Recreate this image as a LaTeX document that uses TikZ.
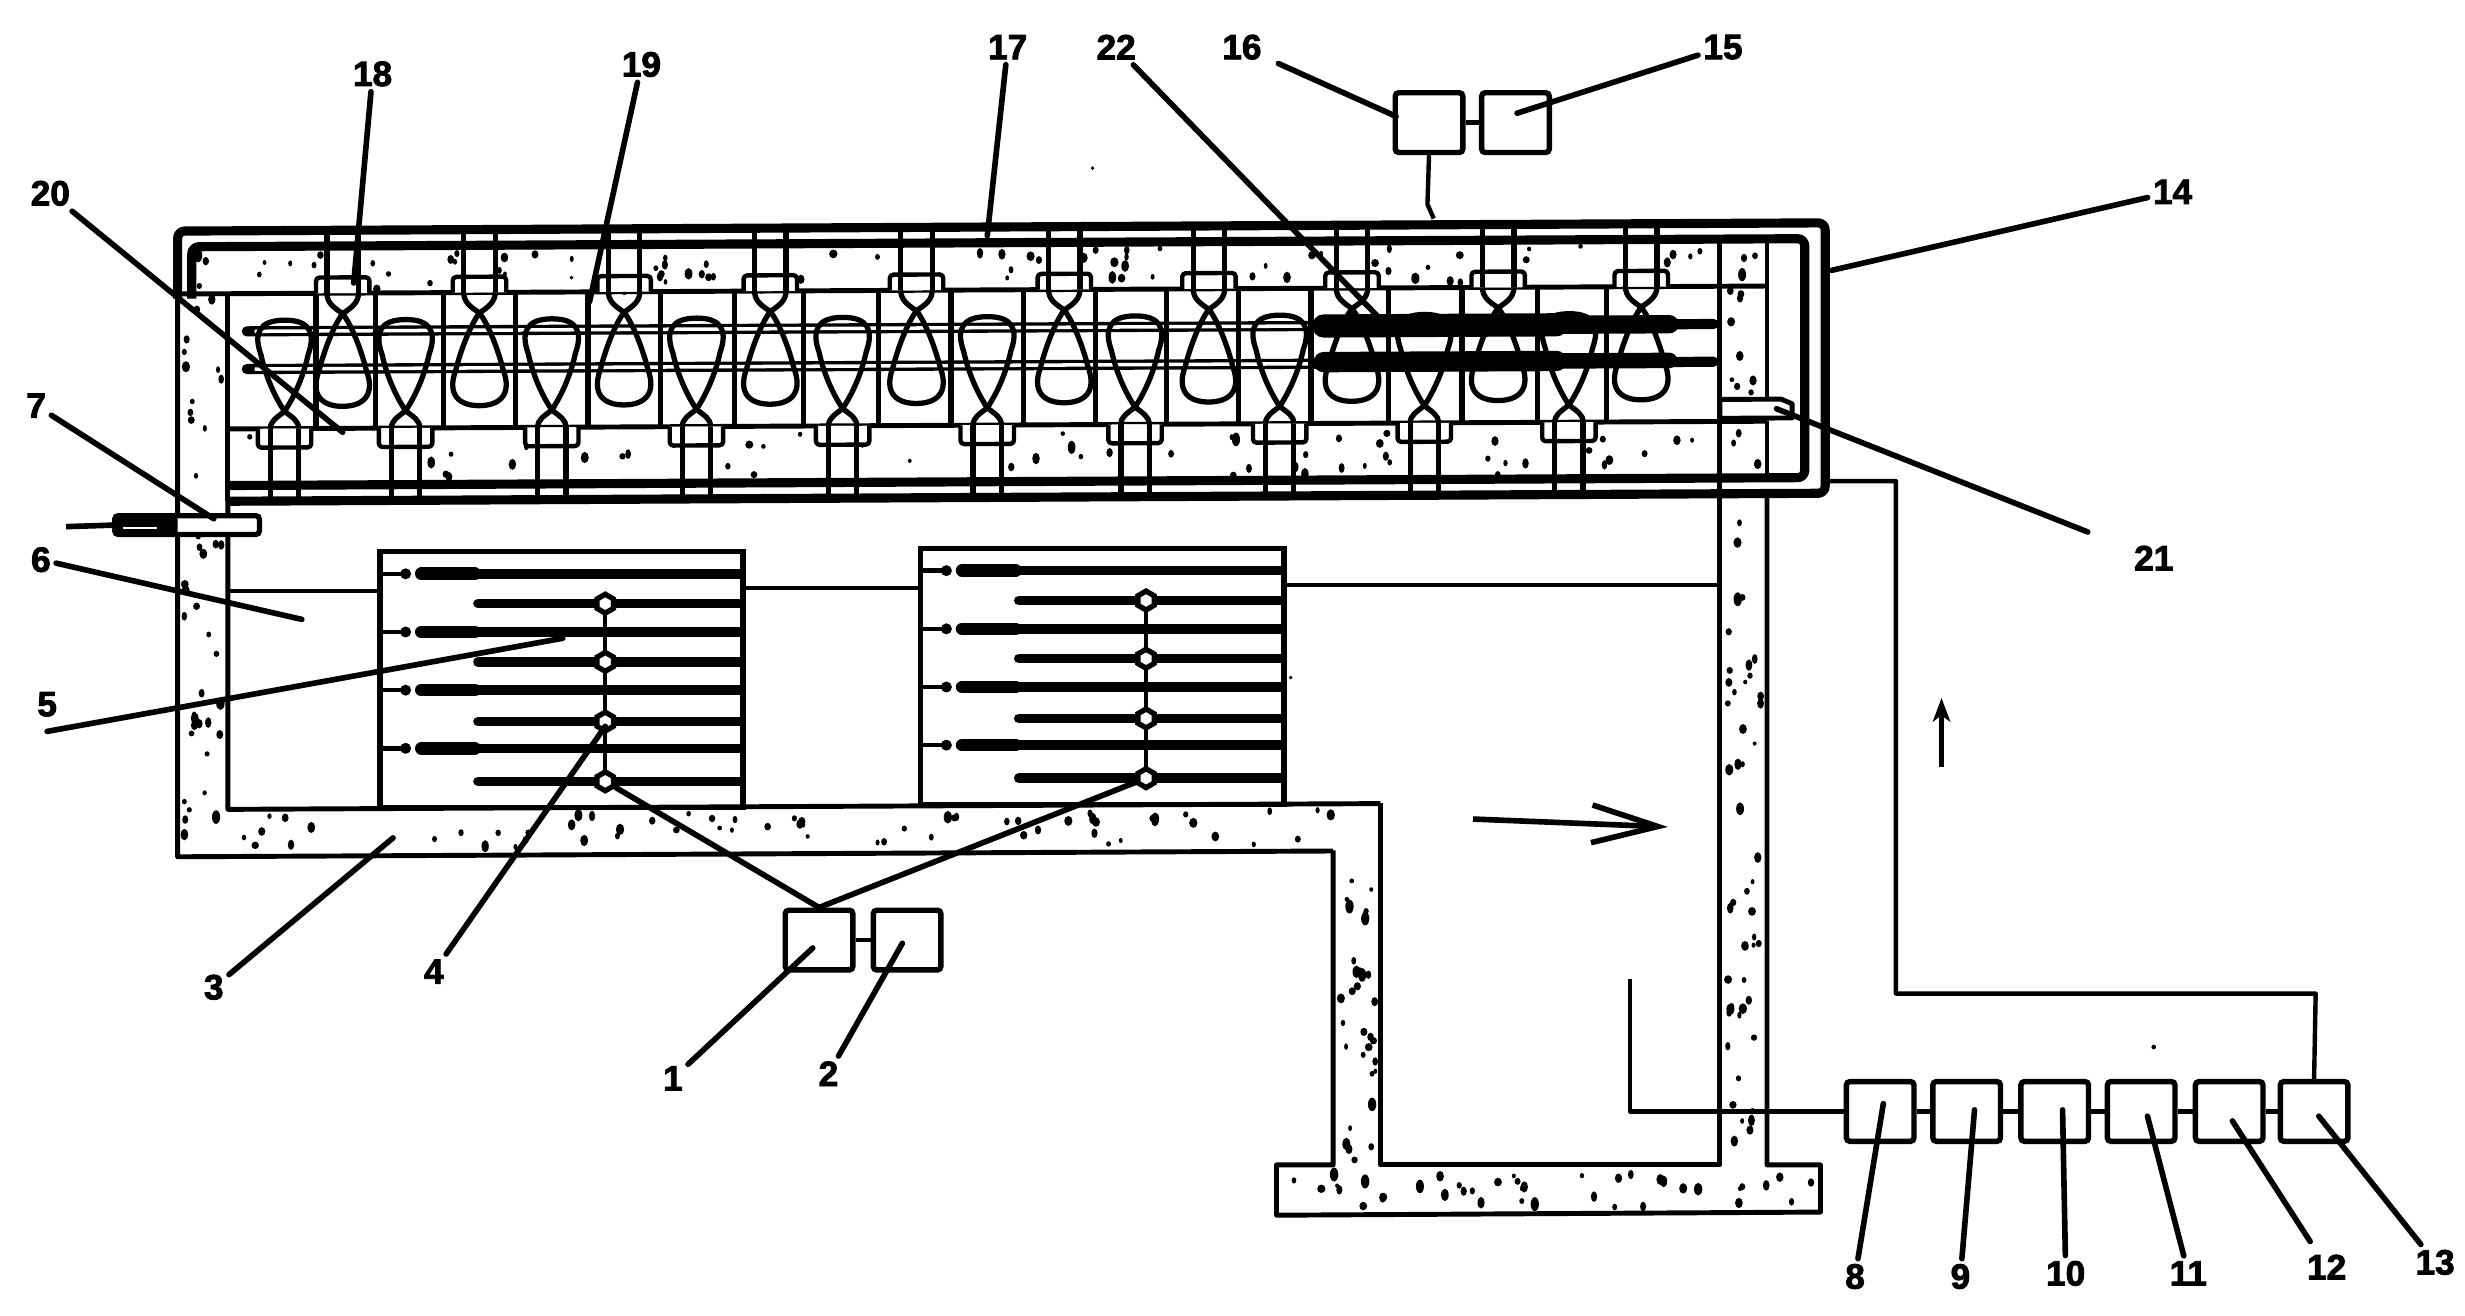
\documentclass[tikz,border=0pt]{standalone}
\usepackage{fontspec}
\setmainfont{Liberation Sans}[BoldFeatures={FakeBold=2.5}]
\usetikzlibrary{arrows.meta,shapes.geometric}
\def\uu{0.0157207cm}
\tikzset{
 thinl/.style={line width=1.25pt,line join=round},
 wall/.style={line width=1.4pt,line join=round},
 heavy/.style={line width=2.6pt,line join=round,rounded corners=2pt},
 tubel/.style={line width=1.5pt,line join=round},
 leader/.style={line width=1.6pt,line cap=round},
 boxn/.style={draw,line width=1.55pt,rounded corners=1pt,fill=white,inner sep=0pt,minimum width=43*\uu,minimum height=38*\uu},
 lab/.style={font=\bfseries\fontsize{10}{10}\selectfont,inner sep=3*\uu},
 hexn/.style={draw,fill=white,line width=1.5pt,regular polygon,regular polygon sides=6,rotate=30,inner sep=0pt,minimum size=12*\uu},
}
% speckles: x1 x2 y1 y2 count
\newcommand\speckles[5]{%
 \foreach \k in {1,...,#5}{%
  \pgfmathsetmacro\sx{#1+rnd*(#2-#1)}%
  \pgfmathsetmacro\sy{#3+rnd*(#4-#3)}%
  \pgfmathsetmacro\ra{1.2+rnd*1.5}%
  \pgfmathsetmacro\rb{\ra*(1+rnd*0.7)}%
  \fill (\sx,\sy) ellipse [x radius=\ra, y radius=-\rb];
 }}
\newcommand\toptube[1]{%
 \begin{scope}[shift={(#1,0)}]
  \fill[white] (-10,158) rectangle (10,187);
  \draw[tubel] (-10,147)--(-10,187) (10,147)--(10,187);
  \draw[thinl,fill=white,rounded corners=1pt] (-17,187)--(-17,177)--(17,177)--(17,187);
  \draw[tubel] (-10,177)--(-10,187) (10,177)--(10,187);
  \draw[tubel] (-10,187) .. controls (-10,193) and (-6,196) .. (0,200)
    .. controls (6,208) and (12,224) .. (15,236)
    .. controls (21,252) and (13,259) .. (0,259)
    .. controls (-13,259) and (-21,252) .. (-15,236)
    .. controls (-12,224) and (-6,208) .. (0,200)
    .. controls (6,196) and (10,193) .. (10,187);
 \end{scope}}
\newcommand\bottube[1]{%
 \begin{scope}[shift={(#1,0)}]
  \fill[white] (-9,273) rectangle (9,310);
  \draw[tubel] (-9,285)--(-9,319) (9,285)--(9,319);
  \draw[thinl,fill=white,rounded corners=1pt] (-17,273)--(-17,285)--(17,285)--(17,273);
  \draw[tubel] (-9,273)--(-9,285) (9,273)--(9,285);
  \draw[tubel] (-9,273) .. controls (-9,268) and (-5,266) .. (0,262)
    .. controls (6,253) and (12,240) .. (15,226)
    .. controls (20,212) and (16,204) .. (0,204)
    .. controls (-16,204) and (-20,212) .. (-15,226)
    .. controls (-12,240) and (-6,253) .. (0,262)
    .. controls (5,266) and (9,268) .. (9,273);
 \end{scope}}
\newcommand\burnerset[3]{%
 \begin{scope}[shift={(#1,#2)},name prefix=#3-]
  \node[draw,line width=1.5pt,minimum width=231*\uu,minimum height=163*\uu,inner sep=0pt,anchor=north west] (frame) at (240,349) {};
  \foreach \ry in {365,402,439,476}{
   \draw[thinl] (240,\ry)--(258,\ry);
   \fill (258,\ry) circle (3.5);
   \draw[line width=3.6pt,line cap=round] (268,\ry)--(302,\ry);
   \draw[line width=2.7pt] (302,\ry)--(471,\ry);
  }
  \draw[thinl] (385,384)--(385,497);
  \foreach \ry in {384,421,459,497}{
   \draw[line width=2.7pt,line cap=round] (304,\ry)--(471,\ry);
  }
  \node[hexn] (h1) at (385,384) {};
  \node[hexn] (h2) at (385,421) {};
  \node[hexn] (h3) at (385,459) {};
  \node[hexn] (h4) at (385,497) {};
 \end{scope}}
\begin{document}
\begin{tikzpicture}[x=\uu,y=-\uu]
\useasboundingbox (0,0) rectangle (1568,837.1);
\pgfmathsetseed{11}
% ---- furnace and upper duct, very slightly tilted as in the drawing
\begin{scope}[yslant=0.005,yshift=-0.0089cm]
 \speckles{126}{1090}{161}{185}{95}
 \speckles{150}{1090}{278}{306}{60}
 \speckles{117}{141}{190}{540}{42}
 \speckles{141}{875}{519}{541}{62}
 \speckles{1098}{1120}{160}{320}{20}
 % rods
 \draw[line width=2.9pt,line cap=round] (157,211)--(1090,211);
 \draw[line width=2.9pt,line cap=round] (157,235)--(1090,235);
 \draw[white,line width=1pt] (162,211)--(840,211) (162,235)--(840,235);
 % chamber
 \foreach \sx in {201,239,282,328,374,420,467,511,559,605,651,697,742,788,834,883,930,978,1022}{
  \draw[tubel] (\sx,187)--(\sx,273);
 }
 \draw[wall] (113,187)--(1124,187);
 \draw[wall] (145,273)--(1124,273);
 \foreach \c in {218,305,397,490,583,677,769,860,953,1044}{\toptube{\c}}
 \foreach \c in {181,258,351,443,536,628,722,814,906,998}{\bottube{\c}}
 % heavy parts of rods
 \draw[line width=6.6pt,line cap=round] (842,211)--(990,211);
 \draw[line width=5.2pt,line cap=round] (990,211)--(1062,211);
 \draw[line width=5.8pt,line cap=round] (842,234)--(990,234);
 \draw[line width=4.4pt,line cap=round] (990,234)--(1062,234);
 % shells
 \draw[heavy] (113,190)--(113,147)--(1161,147)--(1161,319)--(145,319);
 \draw[heavy] (122,190)--(122,157)--(1148,157)--(1148,309)--(145,309);
 \draw[wall] (145,187)--(145,319);
 \draw[wall] (1094,157)--(1094,319);
 \draw[wall] (1124,157)--(1124,259);
 \draw[wall] (1124,273)--(1124,309);
 \draw[wall,fill=white] (1094,259)--(1133,259)--(1140,262)--(1140,271)--(1094,271)--cycle;
 % lower duct
 \draw[wall] (113,187)--(113,545)--(848,545);
 \draw[wall] (145,319)--(145,515)--(878,515);
\end{scope}
% legs and foot
\speckles{852}{875}{545}{738}{32}
\speckles{1098}{1120}{322}{738}{48}
\draw[wall] (848,541)--(848,741)--(812,741)--(812,773)--(1158,771)--(1158,741)--(1124,741)--(1124,316);
\draw[wall] (878,511)--(878,741)--(1094,741)--(1094,316);
\speckles{816}{1154}{746}{768}{40}
% item 7
\draw[line width=1.5pt,rounded corners=1pt,fill=white] (73,328) rectangle (165,340);
\fill[rounded corners=1pt] (73,328) rectangle (113,340);
\draw[white,line width=0.5pt] (78,336)--(100,336);
\coordinate (p7) at (73,334);
\coordinate (p7a) at (42,335);
\draw[line width=1.6pt] (p7a)--(p7);
% burners
\burnerset{0}{0}{A}
\burnerset{344}{-2}{B}
\draw[thinl] (145,376)--(240,376);
\draw[thinl] (471,374)--(584,374);
\draw[thinl] (816,372)--(1094,372);
% control boxes
\node[boxn] (b16) at (909,78) {};
\node[boxn] (b15) at (964,78) {};
\node[boxn] (b1) at (521,598) {};
\node[boxn] (b2) at (577,598) {};
\node[boxn] (b8) at (1196,707) {};
\node[boxn] (b9) at (1251,707) {};
\node[boxn] (b10) at (1307,707) {};
\node[boxn] (b11) at (1362,707) {};
\node[boxn] (b12) at (1418,707) {};
\node[boxn] (b13) at (1472,707) {};
\draw[thinl] (b16)--(b15);
\draw[thinl] (b1)--(b2);
\foreach \i/\j in {8/9,9/10,10/11,11/12,12/13}{\draw[thinl] (b\i)--(b\j);}
\coordinate (c16a) at (908,130);
\coordinate (c16b) at (912,139);
\draw[thinl] (b16.south)--(c16a)--(c16b);
\draw[leader] (b1.north)--(A-h4);
\draw[leader] (b1.north)--(B-h4);
\coordinate (c8a) at (1037,707);
\coordinate (c8b) at (1037,623);
\draw[thinl] (b8.west)--(c8a)--(c8b);
\coordinate (c13a) at (1473,632);
\coordinate (c13b) at (1206,632);
\coordinate (c13c) at (1206,306);
\coordinate (c13d) at (1162,306);
\draw[thinl] (b13.north)--(c13a)--(c13b)--(c13c)--(c13d);
% flow arrows
\coordinate (f1) at (937,521);
\coordinate (f2) at (1061,526);
\draw[line width=1.6pt,-{Straight Barb[length=42*\uu,width=24*\uu,line width=1.6pt]}] (f1)--(f2);
\coordinate (f3) at (1235,488);
\coordinate (f4) at (1235,444);
\draw[line width=1.6pt,-{Stealth[length=15*\uu,width=11*\uu,inset=4*\uu]}] (f3)--(f4);
% specks of the original
\fill (695,107) circle (1.2) (1370,666) circle (1.5) (821,431) circle (1.2);
% labels and leaders: number, label position, free end, gap at the label
\foreach \n/\lx/\ly/\ex/\ey/\gp in {
 18/237/47/225/180/0, 19/408/41/375/192/0, 20/32/123/218/275/0, 17/641/30/628/150/0,
 22/710/30/880/205/0, 16/790/30/888/74/8, 15/1096/30/965/72/0, 14/1382/122/1165/172/0,
 21/1370/355/1130/260/28, 7/23/258/136/330/0, 6/26/356/192/394/0,
 4/276/618/385/462/0, 3/136/628/250/533/0, 1/428/686/517/603/0, 2/527/683/574/600/0,
 8/1180/812/1198/702/0, 9/1247/812/1256/706/0, 10/1314/810/1312/706/0, 11/1392/810/1366/710/0,
 12/1480/806/1420/713/6, 13/1549/803/1475/710/0}{
  \node[lab] (l\n) at (\lx,\ly) {\n};
  \coordinate (e\n) at (\ex,\ey);
  \draw[leader,shorten <=\gp*\uu] (l\n)--(e\n);
}
\node[lab] (l5) at (30,448) {5};
\coordinate (e5) at (358,406);
\draw[leader] ([yshift=-6*\uu]l5.south)--(e5);
\end{tikzpicture}
\end{document}
